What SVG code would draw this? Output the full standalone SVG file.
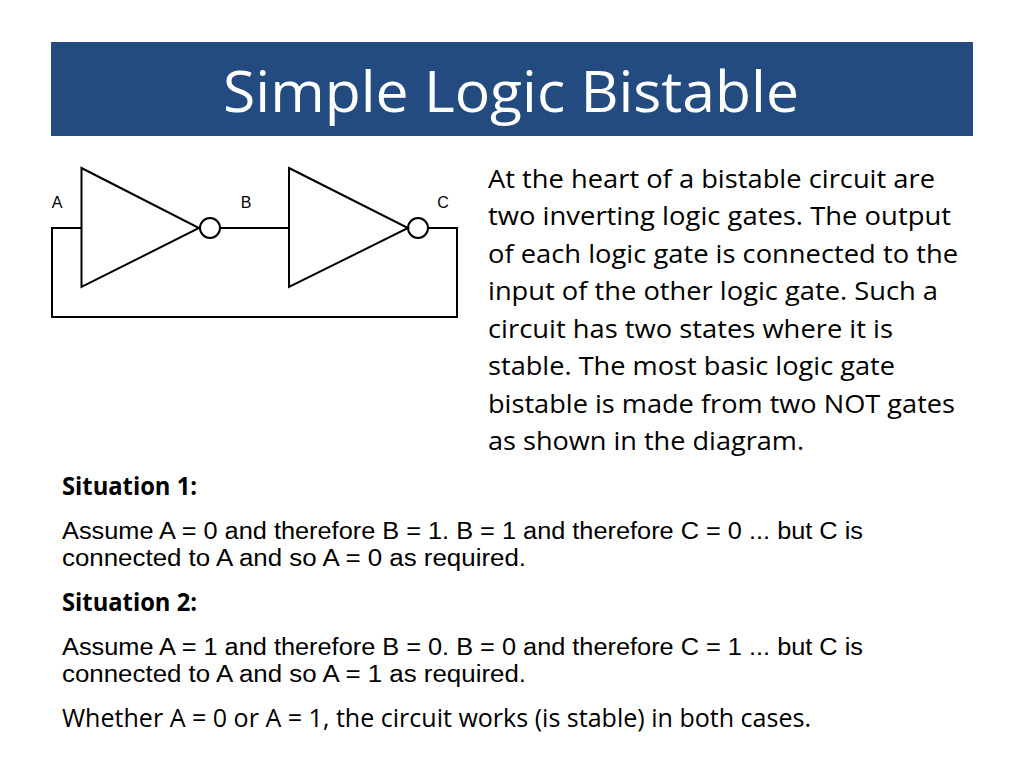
<svg xmlns="http://www.w3.org/2000/svg" width="1024" height="768" viewBox="0 0 1024 768">
<style>
.t{font-family:"Open Sans","Liberation Sans",sans-serif;font-size:25px;fill:#000}
.s{font-family:"Liberation Sans",sans-serif;font-size:23px;fill:#000}
.b{font-weight:bold}
.l{font-family:"Liberation Sans",sans-serif;font-size:16px;fill:#000}
.w{fill:none;stroke:#000;stroke-width:2}
</style>
<rect width="1024" height="768" fill="#fff"/>
<g id="header">
<rect x="51" y="42" width="922" height="94" fill="#244B7F"/>
<text x="511" y="112" text-anchor="middle" font-family="Open Sans,Liberation Sans,sans-serif" font-size="56" fill="#fff" textLength="576" lengthAdjust="spacingAndGlyphs">Simple Logic Bistable</text>
</g>
<g id="connectors">
<path class="w" d="M220,228 H289"/>
<path class="w" d="M428,228 H457 V317 H52 V228 H81"/>
</g>
<g id="gate1"><path class="w" d="M81.5,168 L199,228 L81.5,287 Z"/><circle class="w" cx="210" cy="228" r="10" fill="#fff"/></g>
<g id="gate2"><path class="w" d="M289,168 L408,228 L289,287 Z"/><circle class="w" cx="418" cy="228" r="10" fill="#fff"/></g>
<g id="labels">
<text class="l" x="57" y="208" text-anchor="middle">A</text>
<text class="l" x="246" y="208" text-anchor="middle">B</text>
<text class="l" x="443" y="208" text-anchor="middle">C</text>
</g>
<g id="para">
<text class="t" x="488" y="188" textLength="447" lengthAdjust="spacingAndGlyphs">At the heart of a bistable circuit are</text>
<text class="t" x="488" y="225" textLength="463" lengthAdjust="spacingAndGlyphs">two inverting logic gates. The output</text>
<text class="t" x="488" y="263" textLength="470" lengthAdjust="spacingAndGlyphs">of each logic gate is connected to the</text>
<text class="t" x="488" y="300" textLength="450" lengthAdjust="spacingAndGlyphs">input of the other logic gate. Such a</text>
<text class="t" x="488" y="338" textLength="405" lengthAdjust="spacingAndGlyphs">circuit has two states where it is</text>
<text class="t" x="488" y="375" textLength="407" lengthAdjust="spacingAndGlyphs">stable. The most basic logic gate</text>
<text class="t" x="488" y="413" textLength="467" lengthAdjust="spacingAndGlyphs">bistable is made from two NOT gates</text>
<text class="t" x="488" y="450" textLength="316" lengthAdjust="spacingAndGlyphs">as shown in the diagram.</text>
</g>
<g id="situations">
<text class="t b" x="62" y="495" textLength="135" lengthAdjust="spacingAndGlyphs">Situation 1:</text>
<text class="s" x="62" y="539" textLength="801" lengthAdjust="spacingAndGlyphs">Assume A = 0 and therefore B = 1. B = 1 and therefore C = 0 ... but C is</text>
<text class="s" x="62" y="566" textLength="464" lengthAdjust="spacingAndGlyphs">connected to A and so A = 0 as required.</text>
<text class="t b" x="62" y="611" textLength="135" lengthAdjust="spacingAndGlyphs">Situation 2:</text>
<text class="s" x="62" y="655" textLength="801" lengthAdjust="spacingAndGlyphs">Assume A = 1 and therefore B = 0. B = 0 and therefore C = 1 ... but C is</text>
<text class="s" x="62" y="682" textLength="464" lengthAdjust="spacingAndGlyphs">connected to A and so A = 1 as required.</text>
<text class="t" x="62" y="727" textLength="749" lengthAdjust="spacingAndGlyphs">Whether A = 0 or A = 1, the circuit works (is stable) in both cases.</text>
</g>
</svg>
